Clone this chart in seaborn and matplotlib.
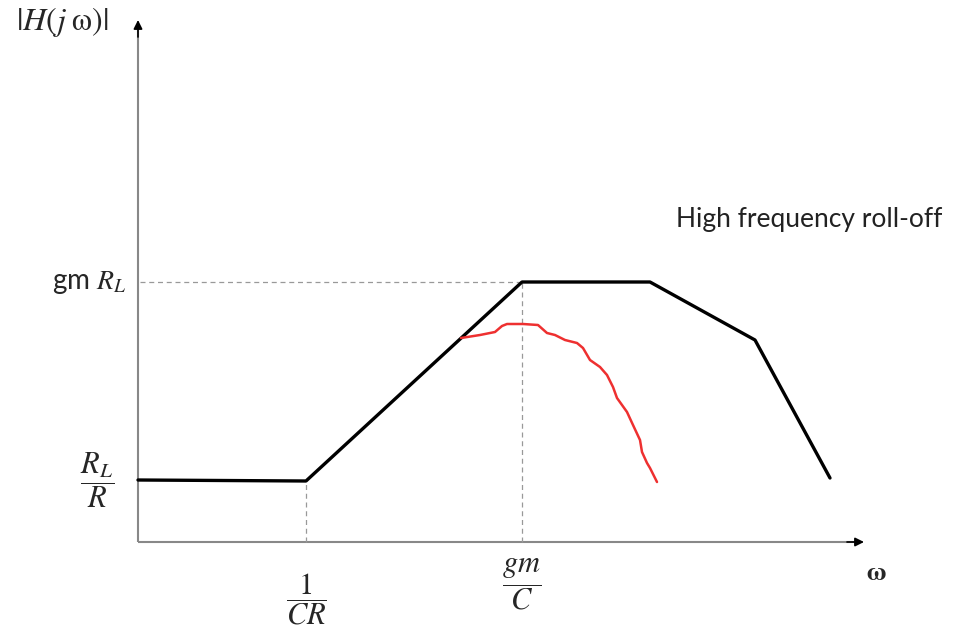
import matplotlib
matplotlib.use("Agg")
import matplotlib.pyplot as plt
import seaborn as sns
import pandas as pd

sns.set_theme(style="white")
plt.rcParams['font.family'] = ['Lato', 'DejaVu Sans']
plt.rcParams['mathtext.fontset'] = 'stix'

# Asymptotic (ideal) response, black
ideal_w = [0, 168, 384, 512, 617, 692]
ideal_h = [62, 61, 260, 260, 202, 64]

# Actual (hand-drawn) response, red
real_w = [323, 342, 357, 364, 369, 385, 400, 409, 417, 427, 439, 445, 452, 462,
          469, 475, 479, 489, 495, 502, 504, 509, 512, 519]
real_h = [204, 207, 210, 216, 218, 218, 217, 209, 207, 202, 199, 194, 182, 175,
          167, 155, 144, 130, 117, 102, 90, 79, 74, 60]

# Reference levels / corner frequencies
corner_w = [168, 384]
corner_h = [61, 260]
gain_level = 260

fig = plt.figure(figsize=(9.55, 6.42), dpi=100)
ax = fig.add_axes([0, 0, 1, 1])
ax.set_xlim(-138, 817)
ax.set_ylim(-100, 542)
ax.axis('off')

axis_col = '#888888'
# axes lines (gray) with black arrow heads
ax.plot([0, 0], [0, 512], color=axis_col, lw=1.5, solid_capstyle='butt')
ax.plot([0, 716], [0, 0], color=axis_col, lw=1.5, solid_capstyle='butt')
ax.annotate('', xy=(0, 522), xytext=(0, 505),
            arrowprops=dict(arrowstyle='-|>', color='black', lw=1.2,
                            mutation_scale=13, shrinkA=0, shrinkB=0))
ax.annotate('', xy=(726, 0), xytext=(709, 0),
            arrowprops=dict(arrowstyle='-|>', color='black', lw=1.2,
                            mutation_scale=13, shrinkA=0, shrinkB=0))

# dashed guides
ax.plot([2, corner_w[1]], [gain_level, gain_level], ls=(0, (4, 3)), color='#999999', lw=0.9)
for w, h in zip(corner_w, corner_h):
    ax.plot([w, w], [0, h], ls=(0, (4, 3)), color='#999999', lw=0.9)

df_ideal = pd.DataFrame({'w': ideal_w, 'h': ideal_h})
df_real = pd.DataFrame({'w': real_w, 'h': real_h})
sns.lineplot(data=df_ideal, x='w', y='h', sort=False, color='black', lw=2.4, ax=ax)
sns.lineplot(data=df_real, x='w', y='h', sort=False, color='#ee3030', lw=1.8, ax=ax)
ax.axis('off')

# labels
ax.text(-76, 520, r'$|H(j\;\mathrm{\omega})|$', fontsize=23, ha='center', va='center')
ax.text(-12, gain_level, r'gm $R_L$', fontsize=20, ha='right', va='center')
ax.text(-41, 62, r'$\dfrac{R_L}{R}$', fontsize=22, ha='center', va='center')
ax.text(168, -57, r'$\dfrac{1}{CR}$', fontsize=22, ha='center', va='center')
ax.text(384, -43, r'$\dfrac{gm}{C}$', fontsize=22, ha='center', va='center')
ax.text(738, -30, r'$\mathbf{\omega}$', fontsize=19, ha='center', va='center')
ax.text(538, 322, 'High frequency roll-off', fontsize=19, ha='left', va='center',
        color='#222222')

fig.savefig('out.png', dpi=100)
